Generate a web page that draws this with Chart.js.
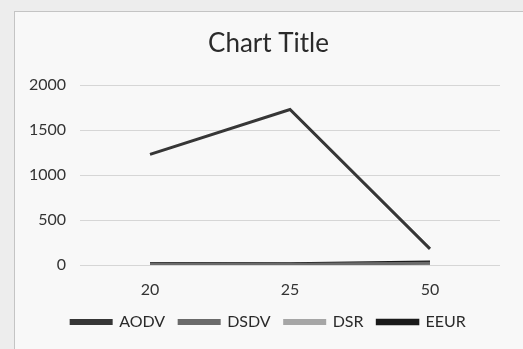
<!DOCTYPE html>
<html>
<head>
<meta charset="utf-8">
<script src="https://cdn.jsdelivr.net/npm/chart.js@4.4.1/dist/chart.umd.min.js"></script>
<style>
  html, body { margin: 0; padding: 0; background: #ededed; }
  #wrap { position: relative; width: 523px; height: 349px; overflow: hidden; }
  #panel { position: absolute; left: 14px; top: 11px; width: 520px; height: 350px;
           background: #f8f8f8; border: 1px solid #c4c4c4; box-sizing: border-box; }
  #c { position: absolute; left: 0; top: 0; }
</style>
</head>
<body>
<div id="wrap">
  <div id="panel"></div>
  <canvas id="c" width="523" height="349"></canvas>
</div>
<script>
const categories = ['20', '25', '50'];
const aodv = [1230, 1730, 180];
const dsdv = [10, 5, 20];
const dsr = [5, 5, 10];
const eeur = [15, 10, 30];
const yTicks = [0, 500, 1000, 1500, 2000];

const FONT = 'Lato, "Open Sans", sans-serif';

function series(label, data, color, width) {
  return {
    label, data,
    borderColor: color, backgroundColor: color,
    borderWidth: width, pointRadius: 0, tension: 0
  };
}

new Chart(document.getElementById('c'), {
  type: 'line',
  data: {
    labels: categories,
    datasets: [
      series('AODV', aodv, '#363636', 3),
      series('DSDV', dsdv, '#6a6a6a', 3),
      series('DSR', dsr, '#a6a6a6', 3),
      series('EEUR', eeur, '#1a1a1a', 3.5)
    ]
  },
  options: {
    responsive: false,
    animation: false,
    devicePixelRatio: 1,
    layout: { padding: { left: 14, right: 0, top: 12, bottom: 9 } },
    plugins: {
      tooltip: { enabled: false },
      title: {
        display: true, text: 'Chart Title', color: '#2a2a2a',
        font: { family: FONT, size: 26, weight: 'normal' },
        padding: { top: 16, bottom: 26 }
      },
      legend: {
        position: 'bottom',
        labels: {
          color: '#2a2a2a', boxWidth: 40, boxHeight: 3, padding: 14,
          font: { family: FONT, size: 16 }
        }
      }
    },
    scales: {
      x: {
        offset: true,
        grid: { display: false, drawTicks: false },
        border: { display: false },
        ticks: { color: '#333', padding: 15, font: { family: FONT, size: 16 } },
        afterFit: s => { s.height = 35; }
      },
      y: {
        min: 0, max: 2000,
        afterBuildTicks: s => { s.ticks = yTicks.map(v => ({ value: v })); },
        grid: { color: '#d6d6d6', lineWidth: 1, drawTicks: false },
        border: { display: false },
        ticks: { color: '#333', padding: 14, font: { family: FONT, size: 16 },
                 callback: v => String(v) },
        afterFit: s => { s.width = 66; }
      },
      yRight: {
        position: 'right', display: true,
        grid: { display: false, drawTicks: false },
        border: { display: false },
        ticks: { display: false },
        afterFit: s => { s.width = 23; }
      }
    }
  }
});
</script>
</body>
</html>
